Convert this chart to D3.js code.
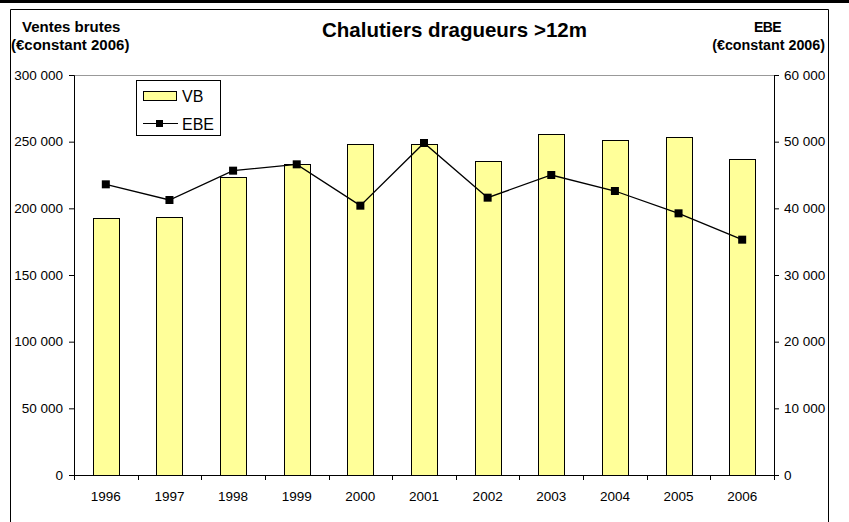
<!DOCTYPE html>
<html><head><meta charset="utf-8">
<script src="https://cdn.jsdelivr.net/npm/d3@7"></script>
<style>body{margin:0;background:#fff}svg{display:block;font-family:"Liberation Sans",Arial,sans-serif}</style>
</head><body><svg id="c" width="849" height="522"></svg>
<script>
const years = ["1996","1997","1998","1999","2000","2001","2002","2003","2004","2005","2006"];
const vbValues = [192500,193750,223500,233500,248500,248500,235500,255500,251500,253500,236750];
const ebeValues = [43600,41250,45650,46600,40400,49800,41600,45000,42600,39250,35300];
const leftTicks = [0,50000,100000,150000,200000,250000,300000];
const rightTicks = [0,10000,20000,30000,40000,50000,60000];

const svg = d3.select("#c");
const fmt = v => d3.format(",")(v).replace(/,/g, " ");
const L = 74, R = 774, T = 75, B = 475;
const FONT = "Liberation Sans, Arial, sans-serif";

// frame
svg.append("rect").attr("x",0).attr("y",0).attr("width",849).attr("height",3).attr("fill","#000");
svg.append("path").attr("d","M10.5,530V9.5H828.5V530").attr("fill","none").attr("stroke","#000").attr("stroke-width",1);

const x = d3.scaleBand().domain(years).range([L,R]).paddingInner(0).paddingOuter(0);
const yL = d3.scaleLinear().domain([0,300000]).range([B,T]);
const yR = d3.scaleLinear().domain([0,60000]).range([B,T]);
const barW = 26;

// top plot border
svg.append("line").attr("x1",L).attr("x2",R).attr("y1",T+0.5).attr("y2",T+0.5).attr("stroke","#999").attr("stroke-width",1);

// bars
svg.append("g").selectAll("rect").data(years).join("rect")
  .attr("x",(d)=>Math.round(x(d)+x.bandwidth()/2-barW/2)+0.5)
  .attr("y",(d,i)=>Math.round(yL(vbValues[i]))+0.5)
  .attr("width",barW)
  .attr("height",(d,i)=>B-Math.round(yL(vbValues[i])))
  .attr("fill","#FFFF99").attr("stroke","#000").attr("stroke-width",1);

// axes
const axL = svg.append("g").attr("transform",`translate(${L},0)`)
  .call(d3.axisLeft(yL).tickValues(leftTicks).tickFormat(fmt).tickSize(5).tickPadding(6));
const axR = svg.append("g").attr("transform",`translate(${R},0)`)
  .call(d3.axisRight(yR).tickValues(rightTicks).tickFormat(fmt).tickSize(5).tickPadding(5));
const axB = svg.append("g").attr("transform",`translate(0,${B})`)
  .call(d3.axisBottom(x).tickSize(0).tickPadding(16));
// category boundary ticks
svg.append("g").selectAll("line").data(d3.range(years.length+1)).join("line")
  .attr("x1",i=>Math.round(L+i*x.bandwidth())+0.5).attr("x2",i=>Math.round(L+i*x.bandwidth())+0.5)
  .attr("y1",B).attr("y2",B+5).attr("stroke","#000");
[axL,axR,axB].forEach(a=>{
  a.attr("font-family",FONT).attr("font-size",13.5);
  a.selectAll("path.domain").attr("stroke","#000");
  a.selectAll(".tick line").attr("stroke","#000");
  a.selectAll("text").attr("fill","#000");
});
axB.select("path.domain").attr("d",`M${L},0.5H${R}`);

// line
const line = d3.line().x((d,i)=>x(years[i])+x.bandwidth()/2).y(d=>yR(d));
svg.append("path").datum(ebeValues).attr("d",line).attr("fill","none").attr("stroke","#000").attr("stroke-width",1.3);
svg.append("g").selectAll("rect").data(ebeValues).join("rect")
  .attr("x",(d,i)=>x(years[i])+x.bandwidth()/2-4).attr("y",d=>yR(d)-4)
  .attr("width",8).attr("height",8).attr("fill","#000");

// legend
const lg = svg.append("g").attr("font-family",FONT);
lg.append("rect").attr("x",136.5).attr("y",80.5).attr("width",84).attr("height",55).attr("fill","#fff").attr("stroke","#000");
lg.append("rect").attr("x",143.5).attr("y",91.5).attr("width",33).attr("height",9).attr("fill","#FFFF99").attr("stroke","#000");
lg.append("text").attr("x",182).attr("y",102).attr("font-size",16).text("VB");
lg.append("line").attr("x1",143).attr("x2",178).attr("y1",123.5).attr("y2",123.5).attr("stroke","#000");
lg.append("rect").attr("x",156).attr("y",120).attr("width",7).attr("height",7).attr("fill","#000");
lg.append("text").attr("x",182).attr("y",129.5).attr("font-size",16).text("EBE");

// titles
const tg = svg.append("g").attr("font-family",FONT).attr("font-weight","bold");
tg.append("text").attr("x",454.5).attr("y",36.5).attr("text-anchor","middle").attr("font-size",20.5).text("Chalutiers dragueurs >12m");
tg.append("text").attr("x",22).attr("y",32).attr("font-size",15).text("Ventes brutes");
tg.append("text").attr("x",11).attr("y",49.5).attr("font-size",15).text("(€constant 2006)");
tg.append("text").attr("x",767.5).attr("y",32).attr("text-anchor","middle").attr("font-size",14).attr("letter-spacing","-0.6").text("EBE");
tg.append("text").attr("x",825).attr("y",49.5).attr("text-anchor","end").attr("font-size",14.3).text("(€constant 2006)");
</script></body></html>
